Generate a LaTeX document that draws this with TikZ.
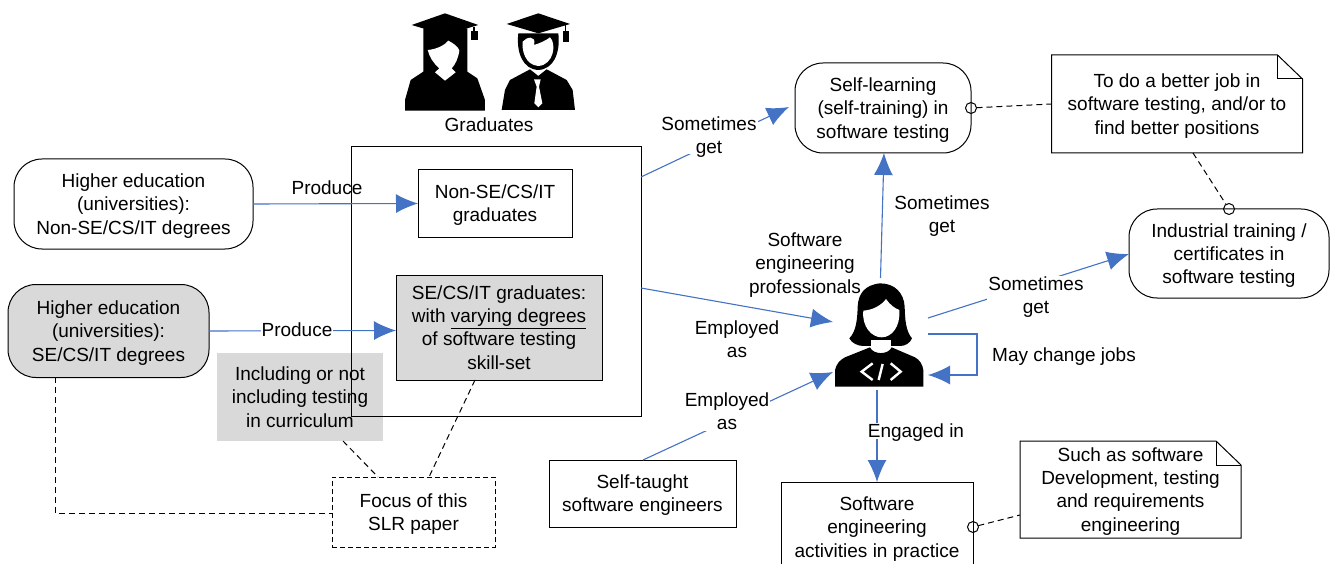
\documentclass[tikz,border=0pt]{standalone}
\usepackage{fontspec}
\setmainfont{Liberation Sans}
\usetikzlibrary{arrows.meta}
\definecolor{flowblue}{HTML}{4472C4}
\definecolor{boxgray}{HTML}{D9D9D9}
\tikzset{
    every node/.style={font=\fontsize{19}{23.2}\selectfont, align=center, inner sep=0pt, outer sep=0pt, text depth=0pt},
    plainbox/.style={draw, line width=1pt},
    roundbox/.style={draw, line width=1pt, rounded corners=28pt},
    graybox/.style={fill=boxgray},
    dashbox/.style={draw, line width=1pt, dashed, dash pattern=on 5pt off 3pt},
    flow/.style={flowblue, line width=1.1pt, -{Latex[length=22pt,width=19pt]}},
    link/.style={line width=1pt, dash pattern=on 6pt off 4pt},
    pin/.style={draw, circle, line width=1pt, minimum size=11pt},
    gaplabel/.style={fill=white, inner sep=1pt}
}
\newcommand{\foldnote}[1]{
    \draw[line width=1pt] (#1.north west) -- ([xshift=-25pt]#1.north east) -- ([yshift=-24pt]#1.north east) -- (#1.south east) -- (#1.south west) -- cycle;
    \draw[line width=1pt] ([xshift=-25pt]#1.north east) |- ([yshift=-24pt]#1.north east);
}
\begin{document}
\begin{tikzpicture}[x=1pt,y=-1pt]
    \useasboundingbox (0,0) rectangle (1330,564);

    \node[graybox, minimum width=166pt, minimum height=88pt] (curriculum) at (300,397) {Including or not\\including testing\\in curriculum};
    \node[plainbox, minimum width=290pt, minimum height=269pt] (graduates) at (496,281.5) {};

    \node[roundbox, minimum width=239pt, minimum height=90pt] (eduother) at (133.5,204) {Higher education\\(universities):\\Non-SE/CS/IT degrees};
    \node[roundbox, graybox, minimum width=201pt, minimum height=93pt] (eduse) at (108.5,331) {Higher education\\(universities):\\SE/CS/IT degrees};
    \node[plainbox, minimum width=154pt, minimum height=67pt] (gradother) at (495,203.5) {Non-SE/CS/IT\\graduates};
    \node[plainbox, graybox, minimum width=206pt, minimum height=105pt] (gradse) at (499,327.5) {SE/CS/IT graduates:\\with \underline{varying degrees}\\of software testing\\skill-set};
    \node[dashbox, minimum width=163pt, minimum height=70pt, text depth=-4pt] (focus) at (413.5,512) {Focus of this\\SLR paper};
    \node[roundbox, minimum width=176pt, minimum height=90pt] (selflearn) at (883,108) {Self-learning\\(self-training) in\\software testing};
    \node[roundbox, minimum width=200pt, minimum height=89pt] (industrial) at (1229,253.5) {Industrial training /\\certificates in\\software testing};
    \node[plainbox, minimum width=187pt, minimum height=67pt] (selftaught) at (642.5,493.5) {Self-taught\\software engineers};
    \node[plainbox, minimum width=192pt, minimum height=90pt] (activities) at (877,527) {Software\\engineering\\activities in practice};

    \node[minimum width=251pt, minimum height=98pt] (notewhy) at (1177,104) {To do a better job in\\software testing, and/or to\\find better positions};
    \foldnote{notewhy}
    \node[minimum width=221pt, minimum height=97pt] (notesuch) at (1130.5,489.5) {Such as software\\Development, testing\\and requirements\\engineering};
    \foldnote{notesuch}

    % graduates
    \begin{scope}[shift={(390,0)}, x=0.3333pt, y=-0.3333pt]
        \fill (100,85) -- (232,85) -- (232,215) -- (262,235) -- (285,300) -- (285,332) -- (45,332) -- (45,300) -- (62,240) -- (100,215) -- cycle;
        \fill[white] (113,150) .. controls (140,148) and (165,135) .. (175,122) .. controls (190,130) and (205,140) .. (208,152) .. controls (205,175) and (195,195) .. (185,205) -- (197,217) -- (165,242) -- (135,217) -- (148,205) .. controls (130,190) and (118,170) .. (113,150) -- cycle;
        \fill (65,75) -- (165,40) -- (265,75) -- (165,105) -- cycle;
        \draw[line width=1.5pt] (252,80) -- (252,95);
        \fill (244,92) rectangle (263,120);

        \fill (350,72) -- (445,40) -- (540,72) -- (445,100) -- cycle;
        \draw[line width=1.5pt] (527,75) -- (527,95);
        \fill (519,92) rectangle (538,125);
        \fill (385,100) -- (505,100) .. controls (512,160) and (490,208) .. (445,210) .. controls (400,208) and (378,160) .. (385,100) -- cycle;
        \fill[white] (398,125) .. controls (410,110) and (440,105) .. (432,135) .. controls (450,130) and (470,120) .. (480,112) .. controls (500,130) and (492,195) .. (445,198) .. controls (405,195) and (395,150) .. (398,125) -- cycle;
        \fill (335,330) -- (345,270) -- (360,240) -- (420,208) -- (445,228) -- (470,208) -- (530,240) -- (548,270) -- (555,330) -- cycle;
        \fill[white] (432,238) -- (452,238) -- (447,260) -- (457,310) -- (445,322) -- (433,310) -- (440,260) -- cycle;
    \end{scope}
    \node (gradlabel) at (489,125) {Graduates};

    % engineer
    \node[minimum width=95pt, minimum height=112pt] (engineer) at (880.5,334) {};
    \begin{scope}[shift={(780,260)}, x=0.3333pt, y=-0.3333pt]
        \fill (300,70) .. controls (255,75) and (235,100) .. (233,140) .. controls (232,180) and (228,215) .. (208,235) .. controls (215,250) and (235,258) .. (250,258) -- (360,258) .. controls (375,258) and (390,250) .. (396,235) .. controls (378,215) and (375,180) .. (374,140) .. controls (372,100) and (345,70) .. (300,70) -- cycle;
        \fill[white] (250,152) .. controls (280,150) and (305,135) .. (318,117) .. controls (330,135) and (345,145) .. (358,150) .. controls (362,200) and (335,232) .. (305,232) .. controls (275,232) and (245,200) .. (250,152) -- cycle;
        \fill[white] (272,240) rectangle (334,270);
        \fill (165,380) -- (165,330) .. controls (170,310) and (180,300) .. (195,292) -- (270,262) .. controls (280,285) and (325,285) .. (335,262) -- (405,292) .. controls (420,300) and (428,315) .. (430,330) -- (430,380) -- cycle;
        \draw[white, line width=2.4pt] (278,310) -- (245,335) -- (278,360);
        \draw[white, line width=2.4pt] (308,312) -- (296,360);
        \draw[white, line width=2.4pt] (332,310) -- (362,335) -- (332,360);
    \end{scope}

    % blue connectors
    \draw[flow] (eduother.east) -- (gradother.west);
    \draw[flow] (eduse.east) -- ([yshift=-3pt]gradse.west);
    \coordinate (gradtop) at (641,177);
    \coordinate (gradmid) at (641,288);
    \coordinate (selfin) at (789,107);
    \draw[flow] (gradtop) -- (selfin);
    \draw[flow] (gradmid) -- ([yshift=12pt]engineer.west);
    \draw[flow] ([xshift=0.5pt]selftaught.north) -- ([yshift=-38pt]engineer.west);
    \draw[flow] (engineer.north) -- ([xshift=1pt]selflearn.south);
    \draw[flow] ([yshift=16pt]engineer.east) -- ([yshift=-0.5pt]industrial.west);
    \draw[flow] (engineer.east) -- ++(49,0) |- ([yshift=-41pt]engineer.east);
    \draw[flow] ([xshift=-3.5pt]engineer.south) -- (activities.north);

    % labels on the connectors
    \node (labelprodone) at (327,188) {Produce};
    \node[gaplabel] (labelprodtwo) at (297,329.5) {Produce};
    \node[gaplabel] (labelsomeone) at (709,135) {Sometimes\\get};
    \node (labelempone) at (737,339) {Employed\\as};
    \node[gaplabel] (labelemptwo) at (727,411.5) {Employed\\as};
    \node (labelsometwo) at (942,214) {Sometimes\\get};
    \node[gaplabel] (labelsomethree) at (1036,295) {Sometimes\\get};
    \node (labelchange) at (1064,355) {May change jobs};
    \node[gaplabel] (labelengaged) at (916,431) {Engaged in};
    \node (labelprof) at (805,263) {Software\\engineering\\professionals};

    % dashed links
    \coordinate (eduseout) at (55,377);
    \coordinate (focusleft) at (332,513);
    \draw[link] (eduseout) |- (focusleft);
    \coordinate (curout) at (343,441);
    \coordinate (curin) at (378,477);
    \draw[link] (curout) -- (curin);
    \coordinate (gradseout) at (475,380);
    \coordinate (gradsein) at (429,477);
    \draw[link] (gradseout) -- (gradsein);

    \node[pin] (pinself) at (selflearn.east) {};
    \node[pin] (pinind) at (industrial.north) {};
    \node[pin] (pinact) at (activities.east) {};
    \coordinate (notewhyout) at (1193,153);
    \coordinate (notesuchin) at (1020,515);
    \draw[link] (pinself) -- (notewhy.west);
    \draw[link] (notewhyout) -- (pinind);
    \draw[link] (pinact) -- (notesuchin);
\end{tikzpicture}
\end{document}
